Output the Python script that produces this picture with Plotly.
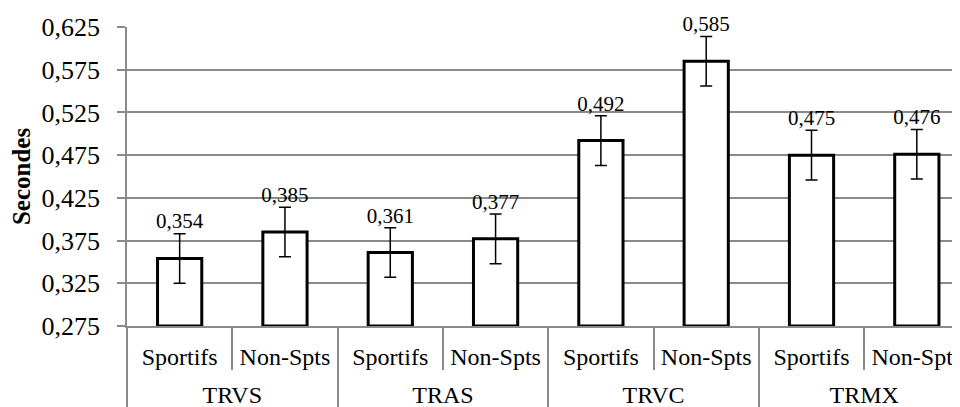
import plotly.graph_objects as go

groups = ["TRVS", "TRAS", "TRVC", "TRMX"]
subs = ["Sportifs", "Non-Spts", "Sportifs", "Non-Spts", "Sportifs", "Non-Spts", "Sportifs", "Non-Spts"]
values = [0.354, 0.385, 0.361, 0.377, 0.492, 0.585, 0.475, 0.476]
errors = [0.029, 0.029, 0.029, 0.029, 0.029, 0.029, 0.029, 0.029]
y_ticks = [0.275, 0.325, 0.375, 0.425, 0.475, 0.525, 0.575, 0.625]
y_base = 0.275

FONT = "Liberation Serif"
GRID = "#8a8a8a"

n = len(values)
xpos = list(range(n))
per_group = n // len(groups)
group_centers = [g * per_group + (per_group - 1) / 2 for g in range(len(groups))]
sub_bounds = [i - 0.5 for i in range(n + 1)]
group_bounds = [g * per_group - 0.5 for g in range(len(groups) + 1)]
x_range = [-0.5, 7.41]

fig = go.Figure()
fig.add_trace(go.Bar(
    x=xpos, y=[v - y_base for v in values],
    base=y_base,
    marker=dict(color="white", line=dict(color="black", width=3)),
    error_y=dict(type="data", array=errors, color="black", thickness=1.5, width=6),
    showlegend=False,
))
fig.add_trace(go.Scatter(
    x=xpos, y=[v + e for v, e in zip(values, errors)],
    mode="text", text=[f"{v:.3f}".replace(".", ",") for v in values],
    textposition="top center",
    textfont=dict(family=FONT, size=21, color="black"),
    showlegend=False, cliponaxis=False,
))
# invisible trace on the group axis so it renders
fig.add_trace(go.Scatter(x=group_centers, y=[None] * len(groups), xaxis="x2",
                         showlegend=False, hoverinfo="skip"))

fig.update_layout(
    width=952, height=399,
    margin=dict(l=119, r=0, t=19, b=81),
    plot_bgcolor="white", paper_bgcolor="white",
    bargap=0.58,
    separators=", ",
    font=dict(family=FONT, size=24, color="black"),
    xaxis=dict(
        range=x_range, tickvals=xpos, ticktext=subs, ticks="",
        showline=True, linecolor=GRID, linewidth=1.5,
        showgrid=False, zeroline=False,
        tickfont=dict(family=FONT, size=24, color="black"),
        ticklabelstandoff=8, ticklabeloverflow="allow",
        minor=dict(tickvals=sub_bounds, ticks="outside", ticklen=42,
                   tickcolor=GRID, tickwidth=1.5, showgrid=False),
        automargin=False,
    ),
    xaxis2=dict(
        overlaying="x", side="bottom", anchor="y",
        range=x_range, tickvals=group_centers, ticktext=groups, ticks="",
        showline=False, showgrid=False, zeroline=False,
        tickfont=dict(family=FONT, size=24, color="black"),
        ticklabelstandoff=52, ticklabeloverflow="allow",
        minor=dict(tickvals=group_bounds, ticks="outside", ticklen=90,
                   tickcolor=GRID, tickwidth=1.5, showgrid=False),
        automargin=False,
    ),
    yaxis=dict(
        range=[0.275, 0.625], tickvals=y_ticks, tickformat=".3f",
        showgrid=True, gridcolor=GRID, gridwidth=1.5,
        showline=True, linecolor=GRID, linewidth=1.5,
        ticks="outside", ticklen=8, tickcolor=GRID, tickwidth=1.5,
        tickfont=dict(family=FONT, size=26, color="black"),
        ticklabelstandoff=12,
        title=dict(text="<b>Secondes</b>", font=dict(family=FONT, size=25, color="black"), standoff=6),
        zeroline=False, automargin=False,
    ),
)

fig.write_html("out.html")
